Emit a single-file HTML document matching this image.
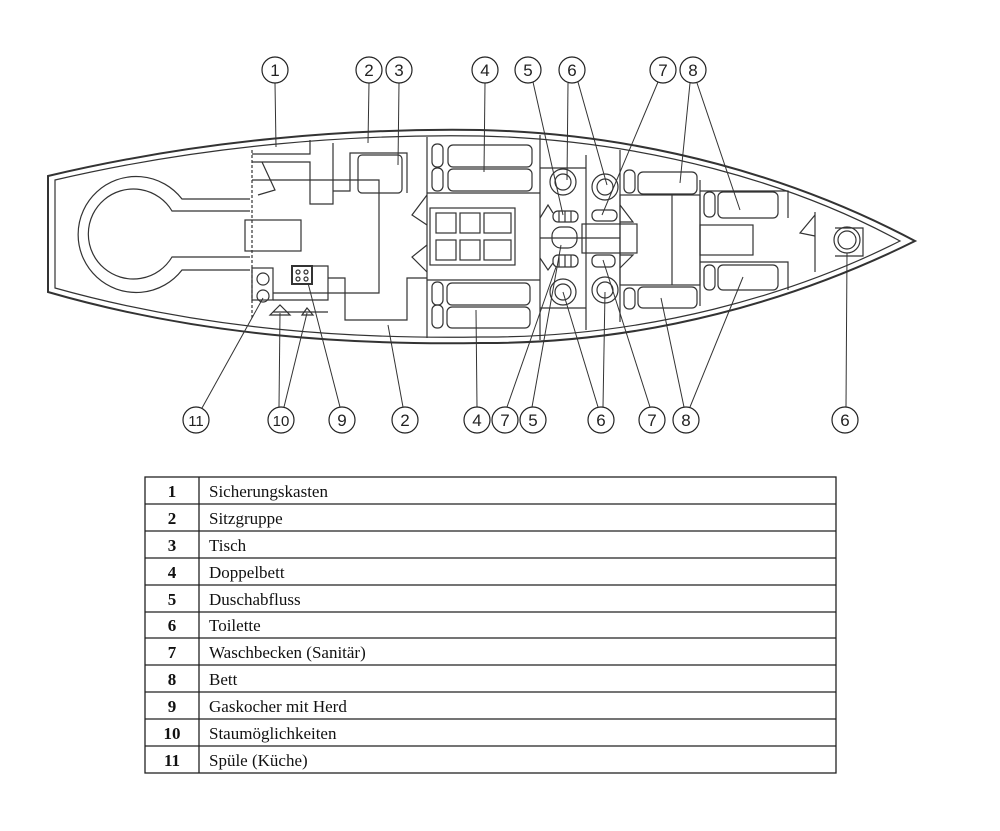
<!DOCTYPE html>
<html><head><meta charset="utf-8"><style>
html,body{margin:0;padding:0;background:#fff;}
svg{display:block;}
</style></head><body>
<svg width="1000" height="831" viewBox="0 0 1000 831" xmlns="http://www.w3.org/2000/svg">
<g fill="none" stroke="#333" stroke-width="1.2">
<!-- hull -->
<path d="M48,176 C200,140 350,128 480,130 C650,134 800,180 915,241 C800,298 650,344 480,343 C350,345 200,336 48,292 Z" stroke-width="2"/>
<path d="M55,180 C205,145 352,134 480,136 C648,140 795,184 900,241 C795,294 648,338 480,337 C352,339 205,330 55,288 Z"/>
<!-- cockpit U -->
<path d="M250,199 L182,199 A58,58 0 1 0 182,270 L250,270"/>
<path d="M250,211 L172,211 A45,45 0 1 0 172,257 L250,257"/>
<!-- saloon -->
<line x1="252" y1="150" x2="252" y2="318" stroke-dasharray="3,2"/>
<path d="M252,154 L310,154 L310,140"/>
<path d="M252,162 L310,162 L310,204 L333,204 L333,143"/>
<path d="M333,191 L350,191 L350,153 L407,153 L407,193"/>
<rect x="358" y="155" width="44" height="38" rx="4"/>
<path d="M252,180 L379,180 L379,293 L273,293"/>
<rect x="245" y="220" width="56" height="31"/>
<rect x="252" y="268" width="21" height="32"/>
<circle cx="263" cy="279" r="6"/><circle cx="263" cy="296" r="6"/>
<rect x="292" y="266" width="20" height="18" stroke-width="2"/>
<circle cx="298" cy="272" r="2"/><circle cx="306" cy="272" r="2"/><circle cx="298" cy="279" r="2"/><circle cx="306" cy="279" r="2"/>
<path d="M273,300 L328,300 L328,266 L312,266"/>
<line x1="273" y1="312" x2="328" y2="312"/>
<path d="M328,278 L345,278 L345,320 L407,320 L407,278 L427,278"/>
<path d="M262,162 L275,190 L258,195"/>
<path d="M427,195 L412,215 L427,225"/>
<path d="M427,245 L412,257 L427,272"/>
<path d="M270,315 L280,305 L290,315 Z"/><path d="M302,315 L307,308 L313,315 Z"/>
<!-- bulkhead 1 & forward saloon -->
<line x1="427" y1="137" x2="427" y2="338"/>
<line x1="427" y1="193" x2="540" y2="193"/>
<line x1="427" y1="280" x2="540" y2="280"/>
<rect x="432" y="144" width="11" height="23" rx="5"/><rect x="432" y="168" width="11" height="23" rx="5"/>
<rect x="432" y="282" width="11" height="23" rx="5"/><rect x="432" y="305" width="11" height="23" rx="5"/>
<rect x="448" y="145" width="84" height="22" rx="5"/><rect x="448" y="169" width="84" height="22" rx="5"/>
<rect x="447" y="283" width="83" height="22" rx="5"/><rect x="447" y="307" width="83" height="21" rx="5"/>
<rect x="430" y="208" width="85" height="57"/>
<rect x="436" y="213" width="20" height="20"/><rect x="460" y="213" width="20" height="20"/><rect x="484" y="213" width="27" height="20"/>
<rect x="436" y="240" width="20" height="20"/><rect x="460" y="240" width="20" height="20"/><rect x="484" y="240" width="27" height="20"/>
<!-- heads -->
<line x1="540" y1="135" x2="540" y2="340"/>
<line x1="586" y1="155" x2="586" y2="330"/>
<line x1="620" y1="150" x2="620" y2="322"/>
<line x1="540" y1="168" x2="586" y2="168"/><line x1="540" y1="308" x2="586" y2="308"/>
<line x1="540" y1="238" x2="620" y2="238"/>
<path d="M540,218 L548,205 L553,213"/><path d="M540,258 L548,270 L553,263"/>
<circle cx="563" cy="182" r="13"/><circle cx="563" cy="182" r="8"/>
<circle cx="605" cy="187" r="13"/><circle cx="605" cy="187" r="8"/>
<circle cx="563" cy="292" r="13"/><circle cx="563" cy="292" r="8"/>
<circle cx="605" cy="290" r="13"/><circle cx="605" cy="290" r="8"/>
<rect x="553" y="211" width="25" height="11" rx="5"/><rect x="553" y="255" width="25" height="12" rx="5"/>
<line x1="559" y1="211" x2="559" y2="222"/><line x1="565" y1="211" x2="565" y2="222"/><line x1="571" y1="211" x2="571" y2="222"/>
<line x1="559" y1="255" x2="559" y2="267"/><line x1="565" y1="255" x2="565" y2="267"/><line x1="571" y1="255" x2="571" y2="267"/>
<rect x="552" y="227" width="25" height="21" rx="9"/>
<rect x="592" y="210" width="25" height="11" rx="5"/><rect x="592" y="255" width="23" height="12" rx="5"/>
<rect x="582" y="224" width="55" height="29"/>
<path d="M620,205 L633,222 L620,222"/><path d="M620,268 L633,255 L620,255"/>
<!-- aft-ish cabin forward -->
<rect x="620" y="195" width="80" height="90"/>
<line x1="672" y1="195" x2="672" y2="285"/>
<rect x="624" y="170" width="11" height="23" rx="5"/><rect x="624" y="288" width="11" height="21" rx="5"/>
<rect x="638" y="172" width="59" height="22" rx="5"/><rect x="638" y="287" width="59" height="21" rx="5"/>
<line x1="700" y1="180" x2="700" y2="306"/>
<path d="M700,191 L788,191 L788,218"/><path d="M700,262 L788,262 L788,290"/>
<rect x="704" y="192" width="11" height="25" rx="5"/><rect x="704" y="265" width="11" height="25" rx="5"/>
<rect x="718" y="192" width="60" height="26" rx="5"/><rect x="718" y="265" width="60" height="25" rx="5"/>
<rect x="700" y="225" width="53" height="30"/>
<line x1="815" y1="212" x2="815" y2="272"/>
<path d="M815,215 L800,233 L815,236"/>
<circle cx="847" cy="240" r="13"/><circle cx="847" cy="240" r="9"/>
<path d="M835,228 L863,228 L863,256 L835,256"/>
<!-- leaders -->
<g stroke-width="1">
<line x1="275" y1="83" x2="276" y2="147"/>
<line x1="369" y1="83" x2="368" y2="143"/>
<line x1="399" y1="83" x2="398" y2="165"/>
<line x1="485" y1="83" x2="484" y2="172"/>
<line x1="533" y1="82" x2="563" y2="215"/>
<line x1="568" y1="83" x2="567" y2="180"/>
<line x1="578" y1="82" x2="607" y2="185"/>
<line x1="658" y1="82" x2="602" y2="215"/>
<line x1="690" y1="83" x2="680" y2="183"/>
<line x1="697" y1="83" x2="740" y2="210"/>
<line x1="202" y1="408" x2="263" y2="298"/>
<line x1="279" y1="407" x2="280" y2="313"/>
<line x1="284" y1="407" x2="307" y2="313"/>
<line x1="340" y1="407" x2="308" y2="283"/>
<line x1="403" y1="407" x2="388" y2="325"/>
<line x1="477" y1="407" x2="476" y2="310"/>
<line x1="507" y1="407" x2="556" y2="267"/>
<line x1="532" y1="407" x2="561" y2="245"/>
<line x1="598" y1="407" x2="563" y2="292"/>
<line x1="603" y1="407" x2="605" y2="292"/>
<line x1="650" y1="407" x2="603" y2="260"/>
<line x1="684" y1="407" x2="661" y2="298"/>
<line x1="690" y1="407" x2="743" y2="277"/>
<line x1="846" y1="407" x2="847" y2="253"/>
</g>
</g>
<g fill="#fff" stroke="#222" stroke-width="1.2">
<circle cx="275" cy="70" r="13"/><circle cx="369" cy="70" r="13"/><circle cx="399" cy="70" r="13"/><circle cx="485" cy="70" r="13"/><circle cx="528" cy="70" r="13"/><circle cx="572" cy="70" r="13"/><circle cx="663" cy="70" r="13"/><circle cx="693" cy="70" r="13"/>
<circle cx="196" cy="420" r="13"/><circle cx="281" cy="420" r="13"/><circle cx="342" cy="420" r="13"/><circle cx="405" cy="420" r="13"/><circle cx="477" cy="420" r="13"/><circle cx="505" cy="420" r="13"/><circle cx="533" cy="420" r="13"/><circle cx="601" cy="420" r="13"/><circle cx="652" cy="420" r="13"/><circle cx="686" cy="420" r="13"/><circle cx="845" cy="420" r="13"/>
</g>
<g font-family="Liberation Sans, sans-serif" font-size="17" text-anchor="middle" fill="#222">
<text x="275" y="76">1</text><text x="369" y="76">2</text><text x="399" y="76">3</text><text x="485" y="76">4</text><text x="528" y="76">5</text><text x="572" y="76">6</text><text x="663" y="76">7</text><text x="693" y="76">8</text>
<text x="196" y="426" font-size="15">11</text><text x="281" y="426" font-size="15">10</text><text x="342" y="426">9</text><text x="405" y="426">2</text><text x="477" y="426">4</text><text x="505" y="426">7</text><text x="533" y="426">5</text><text x="601" y="426">6</text><text x="652" y="426">7</text><text x="686" y="426">8</text><text x="845" y="426">6</text>
</g>
<!-- table -->
<g stroke="#222" stroke-width="1.3" fill="none">
<rect x="145" y="477" width="691" height="296"/>
<line x1="199" y1="477" x2="199" y2="773"/>
<line x1="145" y1="504" x2="836" y2="504"/><line x1="145" y1="531" x2="836" y2="531"/><line x1="145" y1="558" x2="836" y2="558"/><line x1="145" y1="585" x2="836" y2="585"/><line x1="145" y1="612" x2="836" y2="612"/><line x1="145" y1="638" x2="836" y2="638"/><line x1="145" y1="665" x2="836" y2="665"/><line x1="145" y1="692" x2="836" y2="692"/><line x1="145" y1="719" x2="836" y2="719"/><line x1="145" y1="746" x2="836" y2="746"/>
</g>
<g font-family="Liberation Serif, serif" font-size="17" fill="#111">
<g font-weight="bold" text-anchor="middle">
<text x="172" y="497">1</text><text x="172" y="524">2</text><text x="172" y="551">3</text><text x="172" y="578">4</text><text x="172" y="605">5</text><text x="172" y="631">6</text><text x="172" y="658">7</text><text x="172" y="685">8</text><text x="172" y="712">9</text><text x="172" y="739">10</text><text x="172" y="766">11</text>
</g>
<text x="209" y="497">Sicherungskasten</text><text x="209" y="524">Sitzgruppe</text><text x="209" y="551">Tisch</text><text x="209" y="578">Doppelbett</text><text x="209" y="605">Duschabfluss</text><text x="209" y="631">Toilette</text><text x="209" y="658">Waschbecken (Sanitär)</text><text x="209" y="685">Bett</text><text x="209" y="712">Gaskocher mit Herd</text><text x="209" y="739">Staumöglichkeiten</text><text x="209" y="766">Spüle (Küche)</text>
</g>
</svg>
</body></html>
